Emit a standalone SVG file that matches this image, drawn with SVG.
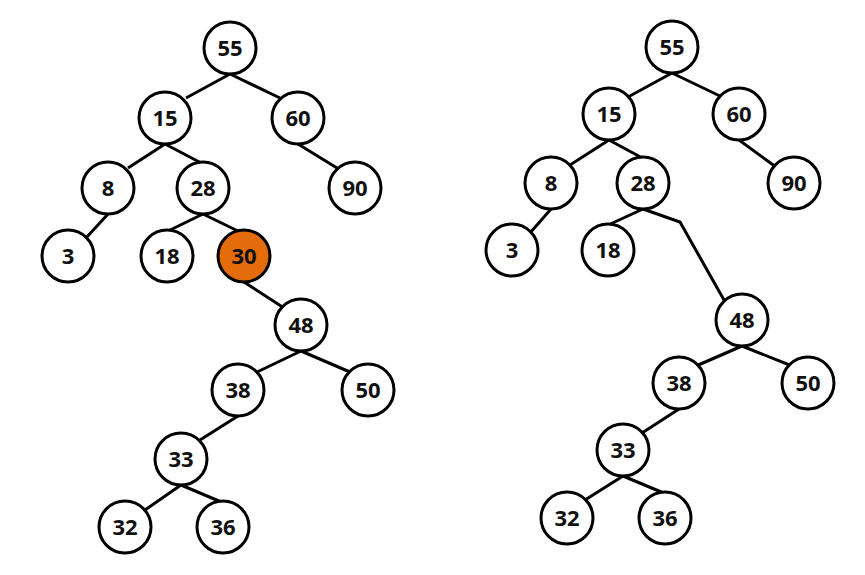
<svg xmlns="http://www.w3.org/2000/svg" width="865" height="575" viewBox="0 0 865 575">
<style>
.n circle{fill:#fff;stroke:#000;stroke-width:3}
.n.hl circle{fill:#E46C0A}
.n text{font-family:"Open Sans","Liberation Sans",sans-serif;font-size:22px;font-weight:700;fill:#111;text-anchor:middle}
#edges path{fill:none;stroke:#000;stroke-width:3;stroke-linejoin:miter}
</style>
<rect width="865" height="575" fill="#fff"/>
<g id="edges">
<path d="M230,74 L186,98"/>
<path d="M230,74 L280,98"/>
<path d="M165,144 L128,168"/>
<path d="M165,144 L205,165"/>
<path d="M298,144 L337,168"/>
<path d="M108,214 L86,238"/>
<path d="M203,214 L166,232"/>
<path d="M203,214 L240,232"/>
<path d="M244,282 L284,308"/>
<path d="M301,351 L255,373"/>
<path d="M301,351 L350,372"/>
<path d="M238,416 L200,440"/>
<path d="M181,485 L145,510"/>
<path d="M181,485 L226,504"/>
<path d="M672,73 L628,97"/>
<path d="M672,73 L722,97"/>
<path d="M609,140 L570,165"/>
<path d="M609,140 L646,160"/>
<path d="M739,140 L776,167"/>
<path d="M551,209 L530,233"/>
<path d="M643,209 L606,226"/>
<path d="M643,209 L680,222 L724,300"/>
<path d="M742,346 L696,366"/>
<path d="M742,346 L792,366"/>
<path d="M679,409 L642,433"/>
<path d="M623,476 L585,500"/>
<path d="M623,476 L666,494"/>
</g>
<g id="L55" class="n"><circle cx="230" cy="48" r="26"/><text x="230" y="56">55</text></g>
<g id="L15" class="n"><circle cx="165" cy="118" r="26"/><text x="165" y="126">15</text></g>
<g id="L60" class="n"><circle cx="298" cy="118" r="26"/><text x="298" y="126">60</text></g>
<g id="L8" class="n"><circle cx="108" cy="188" r="26"/><text x="108" y="196">8</text></g>
<g id="L28" class="n"><circle cx="203" cy="188" r="26"/><text x="203" y="196">28</text></g>
<g id="L90" class="n"><circle cx="355" cy="188" r="26"/><text x="355" y="196">90</text></g>
<g id="L3" class="n"><circle cx="68" cy="256" r="26"/><text x="68" y="264">3</text></g>
<g id="L18" class="n"><circle cx="167" cy="256" r="26"/><text x="167" y="264">18</text></g>
<g id="L30" class="n hl"><circle cx="244" cy="256" r="26"/><text x="244" y="264">30</text></g>
<g id="L48" class="n"><circle cx="301" cy="325" r="26"/><text x="301" y="333">48</text></g>
<g id="L38" class="n"><circle cx="238" cy="390" r="26"/><text x="238" y="398">38</text></g>
<g id="L50" class="n"><circle cx="368" cy="390" r="26"/><text x="368" y="398">50</text></g>
<g id="L33" class="n"><circle cx="181" cy="459" r="26"/><text x="181" y="467">33</text></g>
<g id="L32" class="n"><circle cx="125" cy="527" r="26"/><text x="125" y="535">32</text></g>
<g id="L36" class="n"><circle cx="223" cy="527" r="26"/><text x="223" y="535">36</text></g>
<g id="R55" class="n"><circle cx="672" cy="47" r="26"/><text x="672" y="55">55</text></g>
<g id="R15" class="n"><circle cx="609" cy="114" r="26"/><text x="609" y="122">15</text></g>
<g id="R60" class="n"><circle cx="739" cy="114" r="26"/><text x="739" y="122">60</text></g>
<g id="R8" class="n"><circle cx="551" cy="183" r="26"/><text x="551" y="191">8</text></g>
<g id="R28" class="n"><circle cx="643" cy="183" r="26"/><text x="643" y="191">28</text></g>
<g id="R90" class="n"><circle cx="794" cy="183" r="26"/><text x="794" y="191">90</text></g>
<g id="R3" class="n"><circle cx="512" cy="250" r="26"/><text x="512" y="258">3</text></g>
<g id="R18" class="n"><circle cx="608" cy="250" r="26"/><text x="608" y="258">18</text></g>
<g id="R48" class="n"><circle cx="742" cy="320" r="26"/><text x="742" y="328">48</text></g>
<g id="R38" class="n"><circle cx="679" cy="383" r="26"/><text x="679" y="391">38</text></g>
<g id="R50" class="n"><circle cx="808" cy="383" r="26"/><text x="808" y="391">50</text></g>
<g id="R33" class="n"><circle cx="623" cy="450" r="26"/><text x="623" y="458">33</text></g>
<g id="R32" class="n"><circle cx="567" cy="518" r="26"/><text x="567" y="526">32</text></g>
<g id="R36" class="n"><circle cx="665" cy="518" r="26"/><text x="665" y="526">36</text></g>
</svg>
